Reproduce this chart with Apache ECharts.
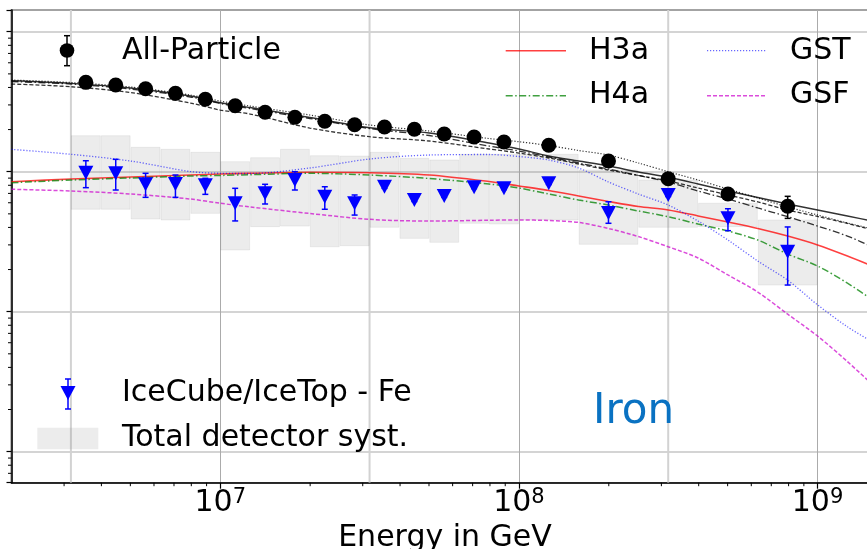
<!DOCTYPE html>
<html>
<head>
<meta charset="utf-8">
<script src="https://cdn.jsdelivr.net/npm/echarts@6/dist/echarts.min.js"></script>
<style>
  html, body { margin: 0; padding: 0; background: #fff; }
  #chart { width: 867px; height: 549px; }
</style>
</head>
<body>
<div id="chart"></div>
<script>
// ---- measured spectrum (bin centres in GeV) ----
const energies = [3.548e6, 4.467e6, 5.623e6, 7.079e6, 8.913e6, 1.122e7, 1.413e7, 1.778e7, 2.239e7, 2.818e7,
                  3.548e7, 4.467e7, 5.623e7, 7.079e7, 8.913e7, 1.259e8, 1.995e8, 3.162e8, 5.012e8, 7.943e8];
const allParticleFlux = [4351, 4163, 3916, 3631, 3290, 2961, 2657, 2447, 2291, 2166,
                         2086, 2009, 1859, 1769, 1630, 1544, 1192, 891, 693, 566];
const allParticleErrLow  = [4300, 4115, 3870, 3590, 3252, 2927, 2627, 2420, 2265, 2142,
                            2063, 1987, 1838, 1749, 1612, 1526, 1175, 875, 678, 464];
const allParticleErrHigh = [4402, 4211, 3962, 3673, 3328, 2995, 2687, 2474, 2317, 2190,
                            2109, 2031, 1880, 1789, 1648, 1562, 1209, 907, 708, 667];
const ironFlux = [984, 974, 813, 817, 800, 595, 701, 872, 663, 595,
                  781, 628, 671, 774, 761, 826, 507, 682, 465, 268];
const ironErrLow  = [769, 740, 656, 656, 689, 445, 588, 740, 539, 490,
                     760, 612, 655, 757, 745, 810, 428, 665, 379, 155];
const ironErrHigh = [1198, 1226, 974, 947, 897, 761, 813, 1000, 781, 682,
                     805, 645, 688, 792, 778, 843, 610, 700, 544, 403];

// ---- total detector systematics per bin ----
const binEdges = [3.162e6, 3.981e6, 5.012e6, 6.310e6, 7.943e6, 1e7, 1.259e7, 1.585e7, 1.995e7, 2.512e7,
                  3.162e7, 3.981e7, 5.012e7, 6.310e7, 7.943e7, 1e8, 1.585e8, 2.512e8, 3.981e8, 6.310e8, 1e9];
const systLow  = [539, 539, 459, 452, 504, 276, 405, 409, 291, 296,
                  401, 334, 313, 428, 423, 452, 303, 401, 405, 155];
const systHigh = [1808, 1808, 1494, 1445, 1376, 1179, 1259, 1445, 1301, 1295,
                  1376, 1246, 1212, 1331, 1331, 1331, 1028, 872, 595, 452];

// ---- model predictions ----
const modelEnergies = [2e6, 3.162e6, 5.012e6, 7.943e6, 1e7, 1.259e7, 1.995e7, 3.162e7, 5.012e7, 7.943e7,
                       1e8, 1.259e8, 1.585e8, 1.995e8, 2.512e8, 3.162e8, 3.981e8, 5.012e8, 6.310e8, 7.943e8,
                       1e9, 1.259e9, 1.585e9];
const ironH3a = [848, 887, 917, 947, 963, 974, 990, 984, 947, 851, 791, 734, 671, 613, 564, 533, 483, 437, 393, 347, 300, 250, 205];
const ironH4a = [834, 872, 902, 932, 940, 952, 974, 947, 894, 817, 765, 693, 628, 578, 524, 477, 423, 377, 325, 258, 212, 160, 115];
const ironGST = [1445, 1332, 1192, 1003, 974, 971, 1063, 1232, 1316, 1327, 1284, 1212, 1063, 844, 693, 578, 444, 325, 230, 168, 112, 78, 58];
const ironGSF = [749, 728, 693, 638, 595, 560, 503, 457, 444, 450, 452, 448, 434, 393, 344, 291, 242, 183, 138, 96, 67, 44, 28];
const allH3a = [4467, 4280, 3962, 3473, 3111, 2875, 2438, 2062, 1890, 1603, 1453, 1294, 1192, 1098, 995, 912, 817, 728, 654, 588, 533, 483, 437];
const allH4a = [4409, 4231, 3897, 3417, 3070, 2828, 2399, 2035, 1814, 1526, 1406, 1274, 1154, 1045, 940, 844, 728, 638, 551, 477, 409, 347, 280];
const allGST = [4519, 4336, 4027, 3531, 3199, 2946, 2541, 2156, 1953, 1726, 1638, 1538, 1417, 1316, 1154, 1000, 872, 752, 649, 560, 491, 430, 383];
const allGSF = [4231, 4047, 3679, 3095, 2759, 2583, 2052, 1778, 1657, 1453, 1360, 1253, 1135, 1028, 940, 858, 765, 682, 608, 533, 479, 427, 377];

// ---- axes ----
const xRange = [2e6, 1.6e9];
const yRange = [6, 14300];
const xTickValues = [1e7, 1e8, 1e9];
const xTickExponents = ['7', '8', '9'];
const halfDecades = [3.162e6, 3.162e7, 3.162e8];
const minorMultipliers = [2, 3, 4, 5, 6, 7, 8, 9];
const xDecades = [1e6, 1e7, 1e8, 1e9];
const yDecades = [1, 10, 100, 1000, 10000];

const FONT = '"DejaVu Sans", "Liberation Sans", sans-serif';

const xMinor = [];
xDecades.forEach(d => minorMultipliers.forEach(m => {
  const v = d * m;
  if (v > xRange[0] && v < xRange[1]) xMinor.push([v, yRange[0]]);
}));
const yMinor = [];
yDecades.forEach(d => minorMultipliers.forEach(m => {
  const v = d * m;
  if (v > yRange[0] && v < yRange[1]) yMinor.push([xRange[0], v]);
}));

const zip = (xs, ys) => xs.map((x, i) => [x, ys[i]]);

function errorBars(color, capHalf, width) {
  return function (params, api) {
    const x = api.value(0);
    const lo = api.coord([x, api.value(1)]);
    const hi = api.coord([x, api.value(2)]);
    const style = { stroke: color, lineWidth: width };
    return {
      type: 'group',
      children: [
        { type: 'line', shape: { x1: lo[0], y1: lo[1], x2: hi[0], y2: hi[1] }, style },
        { type: 'line', shape: { x1: lo[0] - capHalf, y1: lo[1], x2: lo[0] + capHalf, y2: lo[1] }, style },
        { type: 'line', shape: { x1: hi[0] - capHalf, y1: hi[1], x2: hi[0] + capHalf, y2: hi[1] }, style }
      ]
    };
  };
}

function modelLine(name, data, color, width, dash) {
  return {
    name, type: 'line', data: zip(modelEnergies, data),
    showSymbol: false, smooth: 0.3, z: 3, silent: true,
    lineStyle: { color, width, type: dash }
  };
}

const DASHDOT = [7, 2.5, 1.5, 2.5];
const DASHED = [4, 2];
const DOTTED = [1.2, 1.8];

const C_H3A = 'rgba(255,0,0,0.75)';
const C_H4A = 'rgba(0,128,0,0.75)';
const C_GST = 'rgba(0,0,255,0.6)';
const C_GSF = 'rgba(204,0,204,0.7)';
const C_BLK = 'rgba(0,0,0,0.8)';

const chart = echarts.init(document.getElementById('chart'));

chart.setOption({
  animation: false,
  backgroundColor: '#fff',
  grid: {
    left: 11.5, right: -11.5, top: 10, bottom: 66.3,
    show: true, borderColor: '#000', borderWidth: 1.5, backgroundColor: 'transparent',
    outerBoundsMode: 'none', containLabel: false
  },
  xAxis: {
    type: 'log', logBase: 10, min: xRange[0], max: xRange[1],
    name: 'Energy in GeV', nameLocation: 'middle', nameGap: 37,
    nameTextStyle: { fontFamily: FONT, fontSize: 30, color: '#000' },
    axisLine: { lineStyle: { color: '#000', width: 1.5 } },
    axisTick: { length: 6, lineStyle: { color: '#000', width: 1.2 } },
    splitLine: { show: true, lineStyle: { color: '#ababab', width: 1 } },
    axisLabel: {
      margin: 4, showMinLabel: false, showMaxLabel: false,
      formatter: function (v) {
        const i = xTickValues.findIndex(t => Math.abs(t - v) / t < 1e-6);
        return i < 0 ? '' : '{b|10}{s|' + xTickExponents[i] + '}';
      },
      rich: {
        b: { fontFamily: FONT, fontSize: 30, color: '#000', lineHeight: 34 },
        s: { fontFamily: FONT, fontSize: 21, color: '#000', lineHeight: 22, verticalAlign: 'top' }
      }
    }
  },
  yAxis: {
    type: 'log', logBase: 10, min: yRange[0], max: yRange[1],
    axisLine: { lineStyle: { color: '#000', width: 1.5 } },
    axisTick: { length: 5, lineStyle: { color: '#000', width: 1.2 } },
    axisLabel: { show: false },
    splitLine: { show: true, lineStyle: { color: '#c6c6c6', width: 1.6 } }
  },
  series: [
    {
      // half-decade guide lines
      type: 'custom', silent: true, z: 1, clip: true,
      data: halfDecades.map(v => [v]),
      renderItem: function (params, api) {
        const v = api.value(0);
        const a = api.coord([v, yRange[0]]), b = api.coord([v, yRange[1]]);
        return { type: 'line', shape: { x1: a[0], y1: a[1], x2: b[0], y2: b[1] },
                 style: { stroke: '#d2d2d2', lineWidth: 2 } };
      }
    },
    {
      // minor ticks, energy axis
      type: 'custom', silent: true, z: 5, clip: false,
      data: xMinor,
      renderItem: function (params, api) {
        const p = api.coord([api.value(0), api.value(1)]);
        return { type: 'line', shape: { x1: p[0], y1: p[1], x2: p[0], y2: p[1] + 3.5 },
                 style: { stroke: '#000', lineWidth: 1 } };
      }
    },
    {
      // minor ticks, flux axis
      type: 'custom', silent: true, z: 5, clip: false,
      data: yMinor,
      renderItem: function (params, api) {
        const p = api.coord([api.value(0), api.value(1)]);
        return { type: 'line', shape: { x1: p[0] - 3.5, y1: p[1], x2: p[0], y2: p[1] },
                 style: { stroke: '#000', lineWidth: 1 } };
      }
    },
    {
      name: 'Total detector syst.', type: 'custom', silent: true, z: 2, clip: true,
      data: systLow.map((lo, i) => [binEdges[i], binEdges[i + 1], lo, systHigh[i]]),
      encode: { x: [0, 1], y: [2, 3] },
      renderItem: function (params, api) {
        const tl = api.coord([api.value(0), api.value(3)]);
        const br = api.coord([api.value(1), api.value(2)]);
        return { type: 'rect',
                 shape: { x: tl[0] + 0.5, y: tl[1], width: br[0] - tl[0] - 1, height: br[1] - tl[1] },
                 style: { fill: 'rgba(128,128,128,0.15)', stroke: 'rgba(128,128,128,0.12)', lineWidth: 1 } };
      }
    },
    modelLine('H3a', ironH3a, C_H3A, 1.6, 'solid'),
    modelLine('H4a', ironH4a, C_H4A, 1.5, DASHDOT),
    modelLine('GST', ironGST, C_GST, 1.3, DOTTED),
    modelLine('GSF', ironGSF, C_GSF, 1.5, DASHED),
    modelLine('H3a all', allH3a, C_BLK, 1.4, 'solid'),
    modelLine('H4a all', allH4a, C_BLK, 1.3, DASHDOT),
    modelLine('GST all', allGST, C_BLK, 1.2, DOTTED),
    modelLine('GSF all', allGSF, C_BLK, 1.3, DASHED),
    {
      type: 'custom', silent: true, z: 6, clip: false,
      data: energies.map((e, i) => [e, ironErrLow[i], ironErrHigh[i]]),
      encode: { x: 0, y: [1, 2] },
      renderItem: errorBars('#0000ff', 3, 1.5)
    },
    {
      name: 'IceCube/IceTop - Fe', type: 'scatter', z: 7, silent: true,
      data: zip(energies, ironFlux),
      symbol: 'triangle', symbolRotate: 180, symbolSize: [15, 14],
      itemStyle: { color: '#0000ff', opacity: 1 }
    },
    {
      type: 'custom', silent: true, z: 6, clip: false,
      data: energies.map((e, i) => [e, allParticleErrLow[i], allParticleErrHigh[i]]),
      encode: { x: 0, y: [1, 2] },
      renderItem: errorBars('#000', 3, 1.5)
    },
    {
      name: 'All-Particle', type: 'scatter', z: 7, silent: true,
      data: zip(energies, allParticleFlux),
      symbol: 'circle', symbolSize: 15,
      itemStyle: { color: '#000', opacity: 1 }
    }
  ],
  graphic: {
    elements: [
      // legend: all-particle
      { type: 'line', z: 20, shape: { x1: 67, y1: 35.7, x2: 67, y2: 65.7 }, style: { stroke: '#000', lineWidth: 1.5 } },
      { type: 'line', z: 20, shape: { x1: 64, y1: 35.7, x2: 70, y2: 35.7 }, style: { stroke: '#000', lineWidth: 1.5 } },
      { type: 'line', z: 20, shape: { x1: 64, y1: 65.7, x2: 70, y2: 65.7 }, style: { stroke: '#000', lineWidth: 1.5 } },
      { type: 'circle', z: 20, shape: { cx: 67, cy: 50.5, r: 7.3 }, style: { fill: '#000' } },
      { type: 'text', z: 20, x: 122, y: 51, style: { text: 'All-Particle', font: '30px ' + FONT, fill: '#000', verticalAlign: 'middle', textVerticalAlign: 'middle' } },
      // legend: models
      { type: 'line', z: 20, shape: { x1: 505.7, y1: 50.7, x2: 566, y2: 50.7 }, style: { stroke: C_H3A, lineWidth: 1.6 } },
      { type: 'text', z: 20, x: 589, y: 51, style: { text: 'H3a', font: '30px ' + FONT, fill: '#000', verticalAlign: 'middle', textVerticalAlign: 'middle' } },
      { type: 'line', z: 20, shape: { x1: 505.7, y1: 95.7, x2: 566, y2: 95.7 }, style: { stroke: C_H4A, lineWidth: 1.5, lineDash: DASHDOT } },
      { type: 'text', z: 20, x: 589, y: 95.5, style: { text: 'H4a', font: '30px ' + FONT, fill: '#000', verticalAlign: 'middle', textVerticalAlign: 'middle' } },
      { type: 'line', z: 20, shape: { x1: 707, y1: 50.7, x2: 766, y2: 50.7 }, style: { stroke: C_GST, lineWidth: 1.3, lineDash: DOTTED } },
      { type: 'text', z: 20, x: 790, y: 51, style: { text: 'GST', font: '30px ' + FONT, fill: '#000', verticalAlign: 'middle', textVerticalAlign: 'middle' } },
      { type: 'line', z: 20, shape: { x1: 707, y1: 95.7, x2: 766, y2: 95.7 }, style: { stroke: C_GSF, lineWidth: 1.5, lineDash: DASHED } },
      { type: 'text', z: 20, x: 790, y: 95.5, style: { text: 'GSF', font: '30px ' + FONT, fill: '#000', verticalAlign: 'middle', textVerticalAlign: 'middle' } },
      // legend: iron data and systematics
      { type: 'line', z: 20, shape: { x1: 68, y1: 379, x2: 68, y2: 409 }, style: { stroke: '#0000ff', lineWidth: 1.5 } },
      { type: 'line', z: 20, shape: { x1: 65, y1: 379, x2: 71, y2: 379 }, style: { stroke: '#0000ff', lineWidth: 1.5 } },
      { type: 'line', z: 20, shape: { x1: 65, y1: 409, x2: 71, y2: 409 }, style: { stroke: '#0000ff', lineWidth: 1.5 } },
      { type: 'polygon', z: 20, shape: { points: [[60.5, 386], [75.5, 386], [68, 400]] }, style: { fill: '#0000ff' } },
      { type: 'text', z: 20, x: 122, y: 393.5, style: { text: 'IceCube/IceTop - Fe', font: '30px ' + FONT, fill: '#000', verticalAlign: 'middle', textVerticalAlign: 'middle' } },
      { type: 'rect', z: 20, shape: { x: 37.3, y: 427.7, width: 61, height: 21.6 }, style: { fill: 'rgba(128,128,128,0.15)' } },
      { type: 'text', z: 20, x: 122, y: 438.5, style: { text: 'Total detector syst.', font: '30px ' + FONT, fill: '#000', verticalAlign: 'middle', textVerticalAlign: 'middle' } },
      // panel label
      { type: 'text', z: 20, x: 593, y: 412, style: { text: 'Iron', font: '42px ' + FONT, fill: '#0a72c2', verticalAlign: 'middle', textVerticalAlign: 'middle' } }
    ]
  }
});
</script>
</body>
</html>
